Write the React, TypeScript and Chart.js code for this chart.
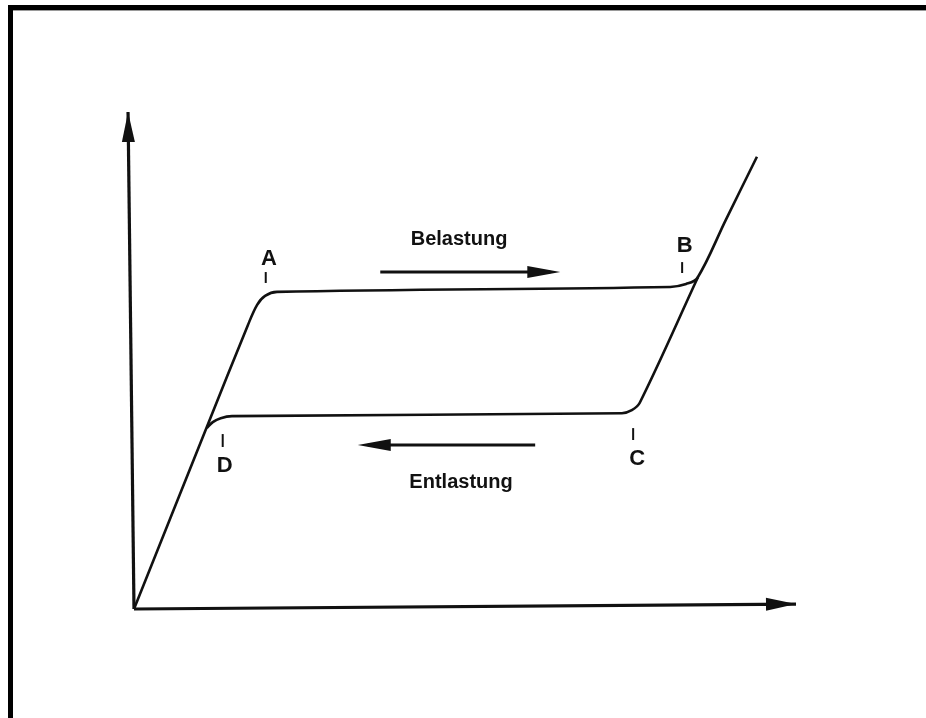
import { useEffect, useRef } from 'react';
import { Chart, registerables } from 'chart.js';

Chart.register(...registerables);

// ---- data (arbitrary units: strain on x, stress on y) ----
const LOAD_X = [0, 11.0, 17.2, 18.6, 19.8, 21.6, 81.0, 83.4, 85.1, 89.4, 94.1];
const LOAD_Y = [0, 36.6, 57.1, 61.2, 63.0, 63.8, 64.8, 65.4, 66.6, 78.3, 91.0];
const UNLOAD_X = [11.0, 11.9, 13.1, 14.8, 73.7, 75.2, 76.4, 85.2];
const UNLOAD_Y = [36.4, 37.6, 38.4, 38.8, 39.4, 40.0, 41.5, 66.8];
const X_AXIS_X = [0, 100];
const X_AXIS_Y = [0, 1.0];
const Y_AXIS_X = [0, -0.9];
const Y_AXIS_Y = [0, 100];

// point labels and their tick marks (data coords)
const POINT_NAMES = ['A', 'B', 'C', 'D'];
const POINT_LABEL_X = [20.4, 83.2, 76.0, 13.7];
const POINT_LABEL_Y = [70.6, 73.2, 30.4, 29.0];
const TICK_X = [19.9, 82.8, 75.4, 13.4];
const TICK_Y_TOP = [67.8, 69.8, 36.4, 35.2];
const TICK_Y_BOT = [65.6, 67.6, 34.0, 32.6];

// direction annotations
const DIR_TEXT = ['Belastung', 'Entlastung'];
const DIR_TEXT_X = [49.1, 49.4];
const DIR_TEXT_Y = [74.6, 25.6];
const DIR_ARROW_FROM_X = [37.2, 60.6];
const DIR_ARROW_TO_X = [64.4, 33.8];
const DIR_ARROW_Y = [67.8, 33.0];

// ---- layout ----
const W = 926;
const H = 718;
const ORIGIN_PX_X = 134;
const ORIGIN_PX_Y = 609;
const PX_PER_X = 6.62;
const PX_PER_Y = 4.97;

const toPts = (xs: number[], ys: number[]) => xs.map((x, i) => ({ x, y: ys[i] }));

const INK = '#111111';

function arrowHead(ctx: CanvasRenderingContext2D, fx: number, fy: number, tx: number, ty: number, len: number, half: number) {
  const dx = tx - fx;
  const dy = ty - fy;
  const d = Math.hypot(dx, dy) || 1;
  const ux = dx / d;
  const uy = dy / d;
  const bx = tx - ux * len;
  const by = ty - uy * len;
  ctx.beginPath();
  ctx.moveTo(tx, ty);
  ctx.lineTo(bx - uy * half, by + ux * half);
  ctx.lineTo(bx + uy * half, by - ux * half);
  ctx.closePath();
  ctx.fill();
}

const decorPlugin = {
  id: 'decor',
  beforeDraw(chart: any) {
    const ctx = chart.ctx;
    ctx.save();
    ctx.fillStyle = '#ffffff';
    ctx.fillRect(0, 0, chart.width, chart.height);
    ctx.restore();
  },
  afterDatasetsDraw(chart: any) {
    const ctx: CanvasRenderingContext2D = chart.ctx;
    const xs = chart.scales.x;
    const ys = chart.scales.y;
    const px = (v: number) => xs.getPixelForValue(v);
    const py = (v: number) => ys.getPixelForValue(v);
    ctx.save();

    // scanned frame (top and left)
    ctx.fillStyle = '#000000';
    ctx.fillRect(8, 5, W - 8, 5);
    ctx.fillRect(8, 5, 5, H - 5);
    ctx.fillStyle = '#9a9a9a';
    ctx.fillRect(13, 10, W - 13, 1);

    // axis arrowheads
    ctx.fillStyle = INK;
    [2, 3].forEach((i) => {
      const meta = chart.getDatasetMeta(i);
      const pts = meta.data;
      const a = pts[pts.length - 2];
      const b = pts[pts.length - 1];
      arrowHead(ctx, a.x, a.y, b.x, b.y, 30, 6.5);
    });

    // point labels and ticks
    ctx.fillStyle = INK;
    ctx.strokeStyle = INK;
    ctx.lineWidth = 2;
    ctx.font = 'bold 22px "Liberation Sans", Arial, sans-serif';
    ctx.textAlign = 'center';
    ctx.textBaseline = 'middle';
    POINT_NAMES.forEach((name, i) => {
      ctx.fillText(name, px(POINT_LABEL_X[i]), py(POINT_LABEL_Y[i]) + 1);
      ctx.beginPath();
      ctx.moveTo(px(TICK_X[i]), py(TICK_Y_TOP[i]));
      ctx.lineTo(px(TICK_X[i]), py(TICK_Y_BOT[i]));
      ctx.stroke();
    });

    // direction annotations
    ctx.font = 'bold 20px "Liberation Sans", Arial, sans-serif';
    DIR_TEXT.forEach((t, i) => {
      ctx.fillText(t, px(DIR_TEXT_X[i]), py(DIR_TEXT_Y[i]) + 1);
      const fx = px(DIR_ARROW_FROM_X[i]);
      const tx = px(DIR_ARROW_TO_X[i]);
      const y = py(DIR_ARROW_Y[i]);
      ctx.lineWidth = 3;
      ctx.beginPath();
      ctx.moveTo(fx, y);
      ctx.lineTo(tx - Math.sign(tx - fx) * 10, y);
      ctx.stroke();
      arrowHead(ctx, fx, y, tx, y, 33, 6);
    });

    ctx.restore();
  },
};

export default function App() {
  const ref = useRef<HTMLCanvasElement | null>(null);

  useEffect(() => {
    if (!ref.current) return;
    const chart = new Chart(ref.current, {
      type: 'scatter',
      data: {
        datasets: [
          {
            label: 'Belastung',
            data: toPts(LOAD_X, LOAD_Y),
            showLine: true,
            borderColor: INK,
            borderWidth: 2.6,
            pointRadius: 0,
            tension: 0.35,
            fill: false,
          },
          {
            label: 'Entlastung',
            data: toPts(UNLOAD_X, UNLOAD_Y),
            showLine: true,
            borderColor: INK,
            borderWidth: 2.6,
            pointRadius: 0,
            tension: 0.35,
            fill: false,
          },
          {
            label: 'x-Achse',
            data: toPts(X_AXIS_X, X_AXIS_Y),
            showLine: true,
            borderColor: INK,
            borderWidth: 3.2,
            pointRadius: 0,
            tension: 0,
          },
          {
            label: 'y-Achse',
            data: toPts(Y_AXIS_X, Y_AXIS_Y),
            showLine: true,
            borderColor: INK,
            borderWidth: 3.2,
            pointRadius: 0,
            tension: 0,
          },
        ],
      },
      options: {
        animation: false,
        responsive: false,
        devicePixelRatio: 1,
        layout: { padding: 0 },
        plugins: {
          legend: { display: false },
          tooltip: { enabled: false },
          title: { display: false },
        },
        scales: {
          x: {
            type: 'linear',
            display: false,
            min: -ORIGIN_PX_X / PX_PER_X,
            max: (W - ORIGIN_PX_X) / PX_PER_X,
          },
          y: {
            type: 'linear',
            display: false,
            min: -(H - ORIGIN_PX_Y) / PX_PER_Y,
            max: ORIGIN_PX_Y / PX_PER_Y,
          },
        },
      },
      plugins: [decorPlugin],
    });
    return () => chart.destroy();
  }, []);

  return (
    <div style={{ position: 'absolute', left: 0, top: 0, width: W, height: H, background: '#fff' }}>
      <canvas ref={ref} width={W} height={H} style={{ display: 'block' }} />
    </div>
  );
}
